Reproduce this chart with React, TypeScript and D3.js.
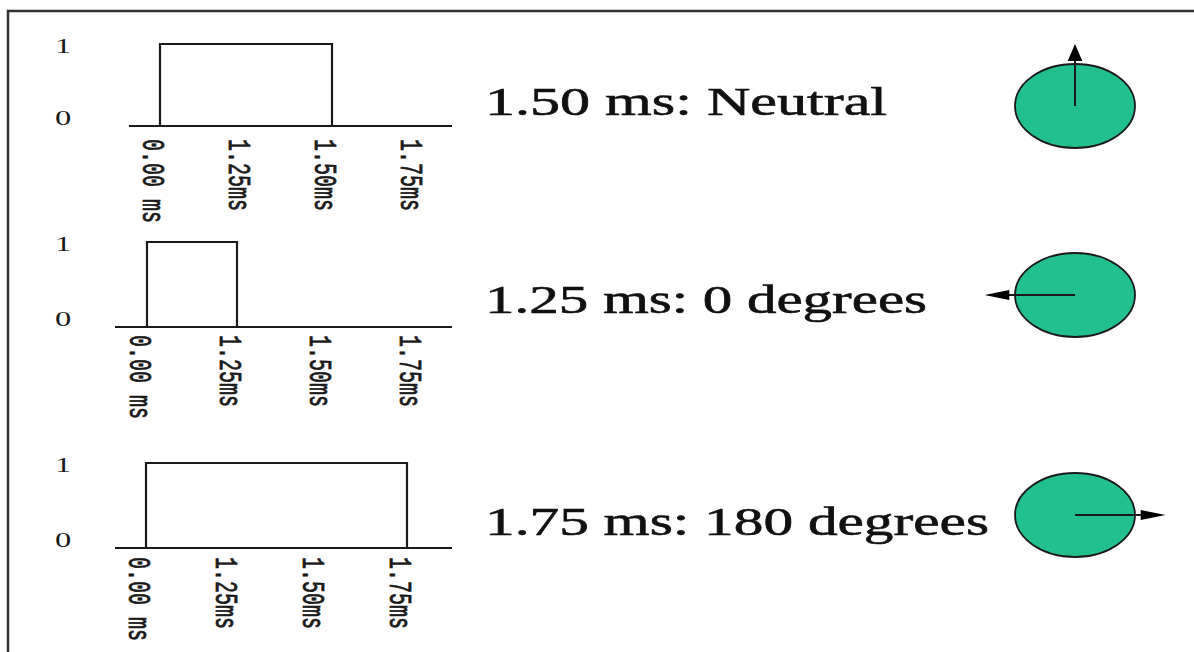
import React from "react";
import * as d3 from "d3";

// ---- data ----
const tickValues = [0, 1.25, 1.5, 1.75];
const tickLabels = ["0.00 ms", "1.25ms", "1.50ms", "1.75ms"];
const levelValues = [0, 1];
const levelLabels = ["0", "1"];
const pulseWidths = [1.5, 1.25, 1.75];
const captions = ["1.50 ms: Neutral", "1.25 ms: 0 degrees", "1.75 ms: 180 degrees"];
const servoAngles = [90, 180, 0]; // arrow direction on screen, degrees (90 = up)

// ---- layout (positions/styles only) ----
const panels = [
  { axisY: 126, topY: 44, x0: 160, x1: 418, axisStart: 129, labelGap: 13, captionY: 115, captionW: 402, servoY: 106 },
  { axisY: 327, topY: 242, x0: 147, x1: 417, axisStart: 115, labelGap: 8, captionY: 313, captionW: 442, servoY: 295 },
  { axisY: 548, topY: 463, x0: 146, x1: 407, axisStart: 115, labelGap: 9, captionY: 535, captionW: 504, servoY: 515 },
];
const AXIS_END = 452;
const STRETCH = 1.46;
const GREEN = "#22c08e";
const INK = "#1a1a1a";

function Panel({ i }: { i: number }) {
  const p = panels[i];
  const x = d3.scalePoint<number>().domain(tickValues).range([p.x0, p.x1]);
  const y = d3.scaleLinear().domain([0, 1]).range([p.axisY, p.topY]);
  const w = pulseWidths[i];
  const pulse = d3.line<[number, number]>()
    .x((d) => x(d[0]) as number)
    .y((d) => y(d[1]))([
      [0, 0],
      [0, 1],
      [w, 1],
      [w, 0],
    ]);
  return (
    <g>
      {/* level labels */}
      {levelValues.map((v, k) => (
        <text
          key={"lv" + k}
          transform={`translate(55, ${v === 1 ? y(v) + 9 : y(v) - 1}) scale(1.55,1)`}
          fontFamily="'Liberation Serif', 'Times New Roman', serif"
          fontSize={21}
          fill={INK}
        >
          {levelLabels[k]}
        </text>
      ))}
      {/* baseline axis */}
      <line x1={p.axisStart} x2={AXIS_END} y1={y(0)} y2={y(0)} stroke={INK} strokeWidth={2.2} />
      {/* pulse */}
      <path d={pulse || ""} fill="none" stroke={INK} strokeWidth={2.2} />
      {/* tick labels, rotated */}
      {tickValues.map((t, k) => (
        <text
          key={"tk" + k}
          transform={`translate(${(x(t) as number) - 9}, ${y(0) + p.labelGap}) rotate(90) scale(1, 1.6)`}
          fontFamily="'Liberation Mono', 'DejaVu Sans Mono', monospace"
          fontSize={20}
          dominantBaseline="central"
          fill={INK}
          stroke={INK}
          strokeWidth={0.5}
        >
          {tickLabels[k]}
        </text>
      ))}
      {/* caption */}
      <text
        x={485}
        y={p.captionY}
        fontFamily="'Liberation Serif', 'Times New Roman', serif"
        fontSize={40}
        textLength={p.captionW}
        lengthAdjust="spacingAndGlyphs"
        fill="#111"
        stroke="#111"
        strokeWidth={0.6}
      >
        {captions[i]}
      </text>
      <Servo cy={p.servoY} angle={servoAngles[i]} />
    </g>
  );
}

function Servo({ cy, angle }: { cy: number; angle: number }) {
  const cx = 1075;
  const a = (angle * Math.PI) / 180;
  const dx = Math.cos(a);
  const dy = -Math.sin(a);
  const L = 62;
  const headLen = 17;
  const headHalf = 5;
  const P = (t: number, n: number) => {
    const px = dx * t + -dy * n;
    const py = dy * t + dx * n;
    return [cx + px * STRETCH, cy + py];
  };
  const tip = P(L, 0);
  const b1 = P(L - headLen, headHalf);
  const b2 = P(L - headLen, -headHalf);
  const shaftEnd = P(L - headLen + 2, 0);
  return (
    <g>
      <ellipse cx={cx} cy={cy} rx={60} ry={42} fill={GREEN} stroke={INK} strokeWidth={1.8} />
      <line x1={cx} y1={cy} x2={shaftEnd[0]} y2={shaftEnd[1]} stroke={INK} strokeWidth={2} />
      <polygon points={[tip, b1, b2].map((q) => q.join(",")).join(" ")} fill="#000" />
    </g>
  );
}

export default function App() {
  return (
    <svg
      width={1194}
      height={652}
      style={{ position: "absolute", left: 0, top: 0, background: "#fff" }}
    >
      <rect x={0} y={0} width={1194} height={652} fill="#fff" />
      <rect x={8} y={11} width={1250} height={700} fill="none" stroke="#333" strokeWidth={2.5} />
      {panels.map((_, i) => (
        <Panel key={i} i={i} />
      ))}
    </svg>
  );
}
